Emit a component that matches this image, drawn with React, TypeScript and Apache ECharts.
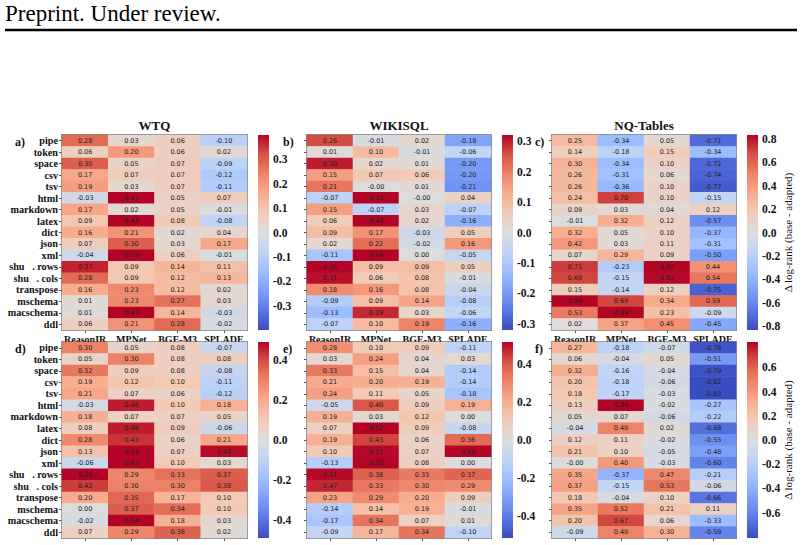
import React, { useEffect, useRef } from 'react';
import * as echarts from 'echarts';

const rowLabels = ['pipe', 'token', 'space', 'csv', 'tsv', 'html', 'markdown', 'latex', 'dict', 'json', 'xml', 'shu   . rows', 'shu   . cols', 'transpose', 'mschema', 'macschema', 'ddl'];
const modelLabels = ['ReasonIR', 'MPNet', 'BGE-M3', 'SPLADE'];
const datasetTitles = ['WTQ', 'WIKISQL', 'NQ-Tables'];
const panelLetters = ['a)', 'b)', 'c)', 'd)', 'e)', 'f)'];
const headerText = 'Preprint. Under review.';
const colorbarName = 'Δ log-rank (base - adapted)';

// rows follow rowLabels; columns follow modelLabels
const wtqTop = [
  [0.28, 0.03, 0.06, -0.10], [0.06, 0.20, 0.06, 0.02], [0.30, 0.05, 0.07, -0.09], [0.17, 0.07, 0.07, -0.12],
  [0.19, 0.03, 0.07, -0.11], [-0.03, 0.41, 0.05, 0.07], [0.17, 0.02, 0.05, -0.01], [0.09, 0.43, 0.08, -0.08],
  [0.16, 0.21, 0.02, 0.04], [0.07, 0.30, 0.03, 0.17], [-0.04, 0.59, 0.06, -0.01], [0.37, 0.09, 0.14, 0.11],
  [0.28, 0.09, 0.12, 0.13], [0.16, 0.23, 0.12, 0.02], [0.01, 0.23, 0.27, 0.03], [0.01, 0.43, 0.14, -0.03],
  [0.06, 0.21, 0.28, -0.02],
];
const wikisqlTop = [
  [0.26, -0.01, 0.02, -0.18], [0.01, 0.10, -0.01, -0.06], [0.30, 0.02, 0.01, -0.20], [0.15, 0.07, 0.06, -0.20],
  [0.21, -0.001, 0.01, -0.21], [-0.07, 0.32, -0.001, 0.04], [0.15, -0.07, 0.03, -0.07], [0.06, 0.40, 0.02, -0.16],
  [0.09, 0.17, -0.03, 0.05], [0.02, 0.22, -0.02, 0.16], [-0.11, 0.69, 0.00, -0.05], [0.35, 0.09, 0.09, 0.05],
  [0.31, 0.06, 0.08, -0.01], [0.18, 0.16, 0.08, -0.04], [-0.09, 0.09, 0.14, -0.08], [-0.13, 0.29, 0.03, -0.06],
  [-0.07, 0.10, 0.19, -0.16],
];
const nqTop = [
  [0.25, -0.34, 0.05, -0.71], [0.14, -0.18, 0.15, -0.34], [0.30, -0.34, 0.10, -0.72], [0.26, -0.31, 0.06, -0.74],
  [0.26, -0.36, 0.10, -0.77], [0.24, 0.70, 0.10, -0.15], [0.09, 0.03, 0.04, 0.12], [-0.01, 0.32, 0.12, -0.57],
  [0.32, 0.05, 0.10, -0.37], [0.42, 0.03, 0.11, -0.31], [0.07, 0.29, 0.09, -0.50], [0.71, -0.23, 0.92, 0.44],
  [0.69, -0.15, 0.82, 0.54], [0.15, -0.14, 0.12, -0.75], [0.84, 0.69, 0.34, 0.59], [0.53, 0.84, 0.23, -0.09],
  [0.02, 0.37, 0.45, -0.45],
];
const wtqBottom = [
  [0.30, 0.05, 0.08, -0.07], [0.05, 0.30, 0.08, 0.08], [0.32, 0.09, 0.08, -0.08], [0.19, 0.12, 0.10, -0.11],
  [0.21, 0.07, 0.06, -0.12], [-0.03, 0.46, 0.10, 0.18], [0.18, 0.07, 0.07, 0.05], [0.08, 0.46, 0.09, -0.06],
  [0.28, 0.43, 0.06, 0.21], [0.13, 0.54, 0.07, 0.48], [-0.06, 0.63, 0.10, 0.03], [0.50, 0.29, 0.33, 0.37],
  [0.42, 0.30, 0.30, 0.38], [0.20, 0.35, 0.17, 0.10], [0.00, 0.37, 0.34, 0.10], [-0.02, 0.54, 0.18, 0.03],
  [0.07, 0.29, 0.36, 0.02],
];
const wikisqlBottom = [
  [0.28, 0.10, 0.09, -0.11], [0.03, 0.24, 0.04, 0.03], [0.33, 0.15, 0.04, -0.14], [0.21, 0.20, 0.19, -0.14],
  [0.24, 0.11, 0.05, -0.18], [-0.05, 0.40, 0.09, 0.19], [0.19, 0.03, 0.12, 0.00], [0.07, 0.52, 0.09, -0.08],
  [0.19, 0.43, 0.06, 0.36], [0.10, 0.51, 0.07, 0.59], [-0.13, 0.78, 0.08, 0.00], [0.51, 0.38, 0.33, 0.37],
  [0.47, 0.33, 0.30, 0.29], [0.23, 0.29, 0.20, 0.09], [-0.14, 0.14, 0.19, -0.01], [-0.17, 0.34, 0.07, 0.01],
  [-0.09, 0.17, 0.34, -0.10],
];
const nqBottom = [
  [0.27, -0.18, -0.07, -0.78], [0.06, -0.04, 0.05, -0.51], [0.32, -0.16, -0.04, -0.79], [0.20, -0.18, -0.06, -0.82],
  [0.18, -0.17, -0.03, -0.83], [0.13, 0.84, -0.02, -0.27], [0.05, 0.07, -0.06, -0.22], [-0.04, 0.49, 0.02, -0.68],
  [0.12, 0.11, -0.02, -0.55], [0.21, 0.10, -0.05, -0.48], [-0.001, 0.40, -0.03, -0.60], [0.35, -0.37, 0.47, -0.21],
  [0.37, -0.15, 0.53, -0.06], [0.18, -0.04, 0.10, -0.66], [0.35, 0.52, 0.21, 0.11], [0.20, 0.67, 0.06, -0.33],
  [-0.09, 0.49, 0.30, -0.59],
];

const colorbarLimits = [0.40, 0.32, 0.83, 0.49, 0.515, 0.81];
const ticksTenth3 = [-0.3, -0.2, -0.1, 0, 0.1, 0.2, 0.3];
const ticksFifth8 = [-0.8, -0.6, -0.4, -0.2, 0, 0.2, 0.4, 0.6, 0.8];
const ticksFifth4 = [-0.4, -0.2, 0, 0.2, 0.4];
const ticksFifth6 = [-0.6, -0.4, -0.2, 0, 0.2, 0.4, 0.6];

const coolwarm = ['#3b4cc0', '#5977e3', '#7b9ff9', '#9ebeff', '#c0d4f5', '#dddcdc', '#f2cbb7', '#f7ac8e', '#ee8468', '#d65244', '#b40426'];

const SERIF = '"Liberation Serif", "Times New Roman", serif';

export default function App() {
  const ref = useRef<HTMLDivElement>(null);
  useEffect(() => {
    document.body.style.margin = '0';
    if (!ref.current) return;
    const chart = echarts.init(ref.current, undefined, { renderer: 'svg' });

    const panels = [wtqTop, wikisqlTop, nqTop, wtqBottom, wikisqlBottom, nqBottom];
    const ticks = [ticksTenth3, ticksTenth3, ticksFifth8, ticksFifth4, ticksFifth4, ticksFifth6];
    const colLeft = [62, 307, 552];
    const colWidth = [185, 184, 184];
    const cbLeft = [258, 502, 747];
    const rowTop = [135, 342];
    const rowHeight = [195, 196];

    const grids: any[] = [];
    const xAxes: any[] = [];
    const yAxes: any[] = [];
    const series: any[] = [];
    const visualMaps: any[] = [];

    panels.forEach((rows, i) => {
      const c = i % 3;
      const r = Math.floor(i / 3);
      grids.push({
        left: colLeft[c], top: rowTop[r], width: colWidth[c], height: rowHeight[r],
        show: true, borderColor: '#8a8a8a', borderWidth: 2, backgroundColor: 'transparent',
      });
      xAxes.push({
        type: 'category', gridIndex: i, data: modelLabels, position: 'bottom',
        axisLine: { show: false },
        axisTick: { show: true, alignWithLabel: true, interval: 0, length: 3, lineStyle: { color: '#555' } },
        axisLabel: {
          show: r === 0, interval: 0, fontFamily: SERIF, fontWeight: 'bold', fontSize: 10, color: '#111', margin: 4,
        },
        splitLine: { show: false },
      });
      yAxes.push({
        type: 'category', gridIndex: i, data: rowLabels, inverse: true,
        axisLine: { show: false },
        axisTick: { show: true, alignWithLabel: true, interval: 0, length: 3, lineStyle: { color: '#555' } },
        axisLabel: {
          show: c === 0, interval: 0, fontFamily: SERIF, fontWeight: 'bold', fontSize: 10.2, color: '#111', margin: 4,
        },
        splitLine: { show: false },
      });
      series.push({
        type: 'heatmap', xAxisIndex: i, yAxisIndex: i,
        data: rows.flatMap((row, ri) => row.map((v, ci) => [ci, ri, v])),
        label: {
          show: true, fontFamily: '"DejaVu Sans", sans-serif', fontSize: 6.5, color: '#222',
          formatter: (p: any) => (p.value[2] as number).toFixed(2),
        },
        emphasis: { disabled: true },
        itemStyle: { borderWidth: 0 },
      });
      visualMaps.push({
        type: 'continuous', show: false, seriesIndex: i, dimension: 2,
        min: -colorbarLimits[i], max: colorbarLimits[i],
        inRange: { color: coolwarm },
      });
    });

    // colorbars
    panels.forEach((_, i) => {
      const c = i % 3;
      const r = Math.floor(i / 3);
      const gi = 6 + i;
      const lim = colorbarLimits[i];
      grids.push({ left: cbLeft[c], top: rowTop[r], width: 11, height: rowHeight[r] });
      xAxes.push({ type: 'value', gridIndex: gi, min: 0, max: 1, show: false });
      yAxes.push({
        type: 'value', gridIndex: gi, min: -lim, max: lim, position: 'right',
        axisLine: { show: false },
        splitLine: { show: false },
        axisTick: { show: true, length: 3, lineStyle: { color: '#333' }, customValues: ticks[i] },
        axisLabel: {
          customValues: ticks[i], fontFamily: SERIF, fontWeight: 'bold', fontSize: 11.5, color: '#111', margin: 4,
          formatter: (v: number) => v.toFixed(1),
        },
      });
      const stops = coolwarm.slice().reverse().map((col, k) => ({ offset: k / (coolwarm.length - 1), color: col }));
      series.push({
        type: 'custom', xAxisIndex: gi, yAxisIndex: gi, silent: true,
        data: [[0, lim]],
        renderItem: (_p: any, api: any) => {
          const v = api.value(1);
          const p1 = api.coord([0, v]);
          const p2 = api.coord([1, -v]);
          return {
            type: 'rect',
            shape: { x: p1[0], y: p1[1], width: p2[0] - p1[0], height: p2[1] - p1[1] },
            style: { fill: new echarts.graphic.LinearGradient(0, 0, 0, 1, stops) },
          };
        },
      });
    });

    const graphics: any[] = [
      {
        type: 'text', x: 5, y: 25,
        style: { text: headerText, font: `23px ${SERIF}`, fill: '#000', textVerticalAlign: 'bottom' },
      },
      { type: 'line', shape: { x1: 5, y1: 30, x2: 797, y2: 30 }, style: { stroke: '#000', lineWidth: 2.5 } },
    ];
    datasetTitles.forEach((t, c) => {
      graphics.push({
        type: 'text', x: colLeft[c] + colWidth[c] / 2, y: 125,
        style: { text: t, font: `bold 13px ${SERIF}`, fill: '#111', textAlign: 'center', textVerticalAlign: 'middle' },
      });
    });
    const letterX = [15, 283, 535];
    panelLetters.forEach((t, i) => {
      const c = i % 3;
      const r = Math.floor(i / 3);
      graphics.push({
        type: 'text', x: letterX[c], y: r === 0 ? 142 : 349,
        style: { text: t, font: `bold 12px ${SERIF}`, fill: '#111', textAlign: 'left', textVerticalAlign: 'middle' },
      });
    });
    [0, 1].forEach((r) => {
      graphics.push({
        type: 'text', x: 788, y: rowTop[r] + rowHeight[r] / 2, rotation: Math.PI / 2,
        style: { text: colorbarName, font: `11px ${SERIF}`, fill: '#111', textAlign: 'center', textVerticalAlign: 'middle' },
      });
    });

    chart.setOption({
      animation: false,
      backgroundColor: '#fff',
      grid: grids,
      xAxis: xAxes,
      yAxis: yAxes,
      visualMap: visualMaps,
      series,
      graphic: graphics,
    });
    return () => chart.dispose();
  }, []);
  return <div ref={ref} style={{ width: 804, height: 545 }} />;
}
